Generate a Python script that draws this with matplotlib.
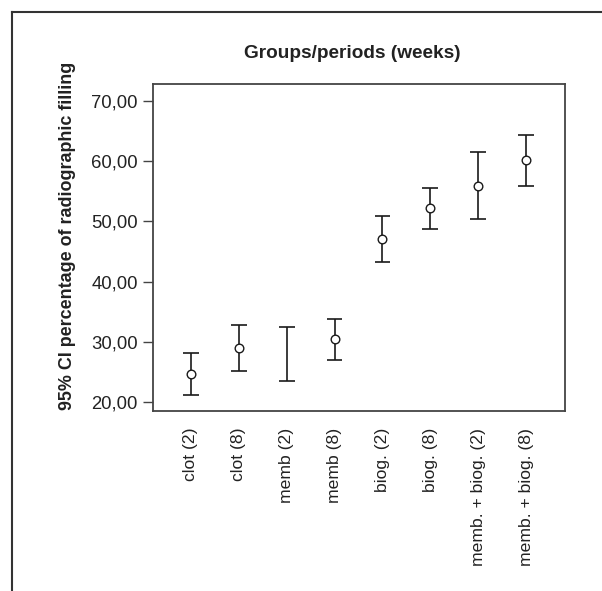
import numpy as np
import matplotlib
matplotlib.use("Agg")
import matplotlib.pyplot as plt
from matplotlib.lines import Line2D

groups = ["clot (2)", "clot (8)", "memb (2)", "memb (8)", "biog. (2)", "biog. (8)",
          "memb. + biog. (2)", "memb. + biog. (8)"]
means = [24.7, 29.0, np.nan, 30.4, 47.1, 52.2, 55.9, 60.1]
lower = [21.2, 25.2, 23.5, 27.0, 43.3, 48.7, 50.3, 55.9]
upper = [28.2, 32.8, 32.5, 33.8, 50.9, 55.6, 61.5, 64.4]
yticks = [20, 30, 40, 50, 60, 70]
ytick_labels = ["20,00", "30,00", "40,00", "50,00", "60,00", "70,00"]

reg = ["Liberation Sans", "DejaVu Sans"]
narrow = ["Liberation Sans Narrow", "Liberation Sans", "DejaVu Sans"]

fig = plt.figure(figsize=(6.02, 5.91), dpi=100)
ax = fig.add_axes([153/602, 1 - 411/591, 412/602, 327/591])

x = np.arange(len(groups))
ax.vlines(x, lower, upper, color="#1a1a1a", lw=1.2)
capw = 0.165
ax.hlines(lower, x - capw, x + capw, color="#1a1a1a", lw=1.2)
ax.hlines(upper, x - capw, x + capw, color="#1a1a1a", lw=1.2)
ax.plot(x, means, linestyle="none", marker="o", markersize=6.2,
        markerfacecolor="white", markeredgecolor="#1a1a1a", markeredgewidth=1.0)

ax.set_xlim(-0.79, 7.81)
ax.set_ylim(18.5, 72.8)
ax.set_yticks(yticks)
ax.set_yticklabels(ytick_labels, fontfamily=reg, fontsize=13.3, color="#222222")
ax.set_xticks(x)
ax.set_xticklabels(groups, rotation=90, fontfamily=reg, fontsize=12.6, color="#222222",
                   va="top", ha="center")
ax.tick_params(axis="x", length=0, pad=12)
ax.tick_params(axis="y", length=7, width=1.0, color="#444444", pad=4)
for s in ax.spines.values():
    s.set_color("#444444")
    s.set_linewidth(1.3)

fig.text(352/602, 1 - 54/591, "Groups/periods (weeks)", fontfamily=narrow,
         fontweight="bold", fontsize=13.7, color="#222222", ha="center", va="center")
fig.text(68/602, 1 - 236/591, "95% CI percentage of radiographic filling",
         fontfamily=narrow, fontweight="bold", fontsize=12.9, color="#222222",
         rotation=90, ha="center", va="center")

fig.add_artist(Line2D([12/602, 12/602], [0, 1 - 12/591], transform=fig.transFigure,
                      color="#333333", lw=1.5))
fig.add_artist(Line2D([12/602, 1], [1 - 12/591, 1 - 12/591], transform=fig.transFigure,
                      color="#333333", lw=1.5))

fig.savefig("out.png", dpi=100)
